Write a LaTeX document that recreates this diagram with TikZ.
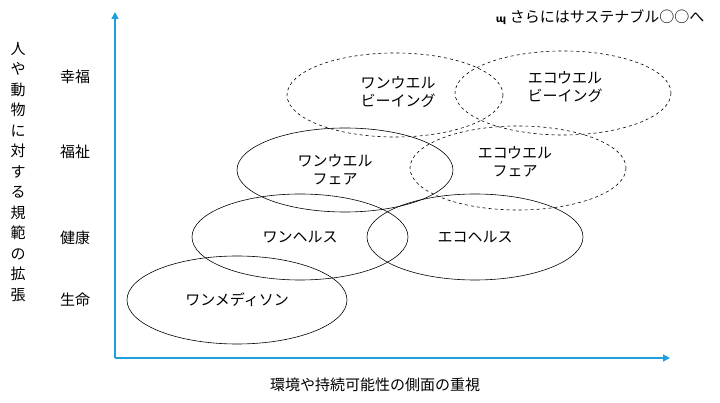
\documentclass[tikz,border=0pt]{standalone}
\usepackage{fontspec}
\setmainfont{Noto Sans CJK JP}
\newfontfamily\symf{DejaVu Sans}
\usetikzlibrary{arrows.meta}
\definecolor{axisblue}{RGB}{30,160,220}
\begin{document}
\begin{tikzpicture}[x=1pt,y=-1pt,
  ell/.style={draw,line width=0.6pt},
  dell/.style={ell,dashed},
  lbl/.style={font=\fontsize{15}{18}\selectfont,align=center},
  axis/.style={draw=axisblue,line width=1.5pt,-{Triangle[length=7pt,width=7pt]}}]
\useasboundingbox (0,0) rectangle (720,403);
\coordinate (o) at (115,358);
\coordinate (ytop) at (115,12);
\coordinate (xend) at (670,358);
\draw[axis] (o) -- (ytop);
\draw[axis] (o) -- (xend);
\draw[ell] (237,300) ellipse [x radius=110,y radius=44];
\draw[ell] (300,237) ellipse [x radius=108,y radius=43];
\draw[ell] (475,237) ellipse [x radius=108,y radius=43];
\draw[ell] (345,170) ellipse [x radius=108,y radius=42];
\draw[dell] (518,168) ellipse [x radius=108,y radius=42];
\draw[dell] (395,95) ellipse [x radius=108,y radius=42];
\draw[dell] (563,93) ellipse [x radius=108,y radius=42];
\node[lbl] (a) at (237,300) {ワンメディソン};
\node[lbl] (b) at (300,237) {ワンヘルス};
\node[lbl] (c) at (475,237) {エコヘルス};
\node[lbl] (d) at (335,170) {ワンウエル\\フェア};
\node[lbl] (e) at (515,162) {エコウエル\\フェア};
\node[lbl] (f) at (398,92) {ワンウエル\\ビーイング};
\node[lbl] (g) at (565,87) {エコウエル\\ビーイング};
\node[lbl] (y1) at (75,77) {幸福};
\node[lbl] (y2) at (75,152) {福祉};
\node[lbl] (y3) at (75,238) {健康};
\node[lbl] (y4) at (75,300) {生命};
\node[lbl,align=center,font=\fontsize{15}{20.5}\selectfont] (yl) at (18,172) {人\\や\\動\\物\\に\\対\\す\\る\\規\\範\\の\\拡\\張};
\node[lbl] (xl) at (375,385) {環境や持続可能性の側面の重視};
\node[lbl,anchor=east] (t) at (708,17) {{\symf\bfseries\fontsize{10}{12}\selectfont ɰ}\ さらにはサステナブル○○へ};
\end{tikzpicture}
\end{document}
